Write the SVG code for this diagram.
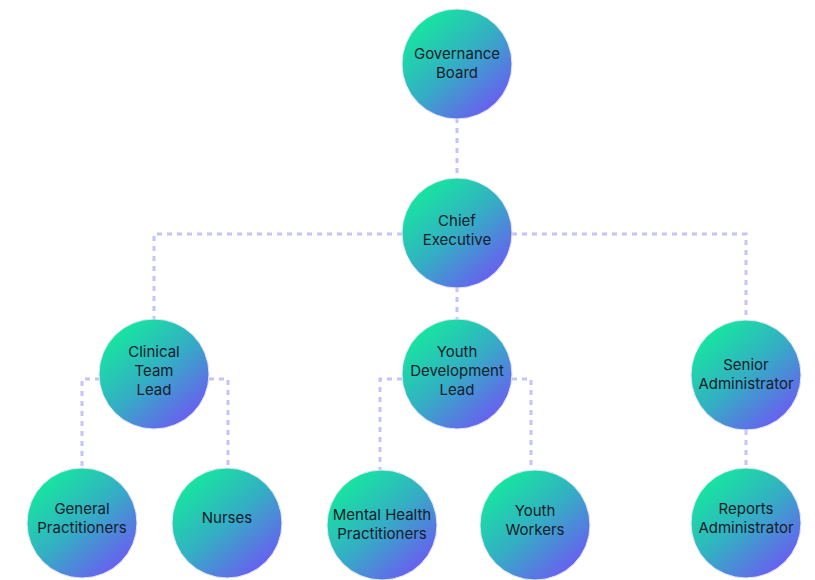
<svg xmlns="http://www.w3.org/2000/svg" width="815" height="580" viewBox="0 0 815 580">
<defs>
<linearGradient id="g" x1="0.15" y1="0.1" x2="0.85" y2="0.9">
<stop offset="0" stop-color="#15e89e"/>
<stop offset="0.5" stop-color="#34aec4"/>
<stop offset="1" stop-color="#6a5cf2"/>
</linearGradient>
<style>
.n circle{fill:url(#g);stroke:#e4e6fb;stroke-width:1}
.n text{font-family:Inter,"Liberation Sans",sans-serif;font-size:15px;fill:#14202a;text-anchor:middle}
.c path{fill:none;stroke:#c4c4fa;stroke-width:3;stroke-dasharray:5 5}
</style>
</defs>
<rect width="815" height="580" fill="#ffffff"/>
<g class="c" id="connectors">
<path d="M457 118 V178"/>
<path d="M402 234 H154 V319"/>
<path d="M512 234 H746 V320"/>
<path d="M457 287 V319"/>
<path d="M100 379 H82 V468"/>
<path d="M209 379 H228 V468"/>
<path d="M402 379 H380 V470"/>
<path d="M512 379 H531 V470"/>
<path d="M746 430 V468"/>
</g>
<g class="n" id="governance-board"><circle cx="457" cy="64" r="55"/><text x="457" y="59">Governance</text><text x="457" y="78">Board</text></g>
<g class="n" id="chief-executive"><circle cx="457" cy="233" r="55"/><text x="457" y="226">Chief</text><text x="457" y="245">Executive</text></g>
<g class="n" id="clinical-team-lead"><circle cx="154" cy="374" r="55"/><text x="154" y="357">Clinical</text><text x="154" y="376">Team</text><text x="154" y="395">Lead</text></g>
<g class="n" id="youth-development-lead"><circle cx="457" cy="374" r="55"/><text x="457" y="357">Youth</text><text x="457" y="376">Development</text><text x="457" y="395">Lead</text></g>
<g class="n" id="senior-administrator"><circle cx="746" cy="375" r="55"/><text x="746" y="370">Senior</text><text x="746" y="389">Administrator</text></g>
<g class="n" id="general-practitioners"><circle cx="82" cy="523" r="55"/><text x="82" y="514">General</text><text x="82" y="533">Practitioners</text></g>
<g class="n" id="nurses"><circle cx="227" cy="523" r="55"/><text x="227" y="523">Nurses</text></g>
<g class="n" id="mental-health-practitioners"><circle cx="382" cy="525" r="55"/><text x="382" y="520">Mental Health</text><text x="382" y="539">Practitioners</text></g>
<g class="n" id="youth-workers"><circle cx="535" cy="525" r="55"/><text x="535" y="516">Youth</text><text x="535" y="535">Workers</text></g>
<g class="n" id="reports-administrator"><circle cx="746" cy="523" r="55"/><text x="746" y="514">Reports</text><text x="746" y="533">Administrator</text></g>
</svg>
